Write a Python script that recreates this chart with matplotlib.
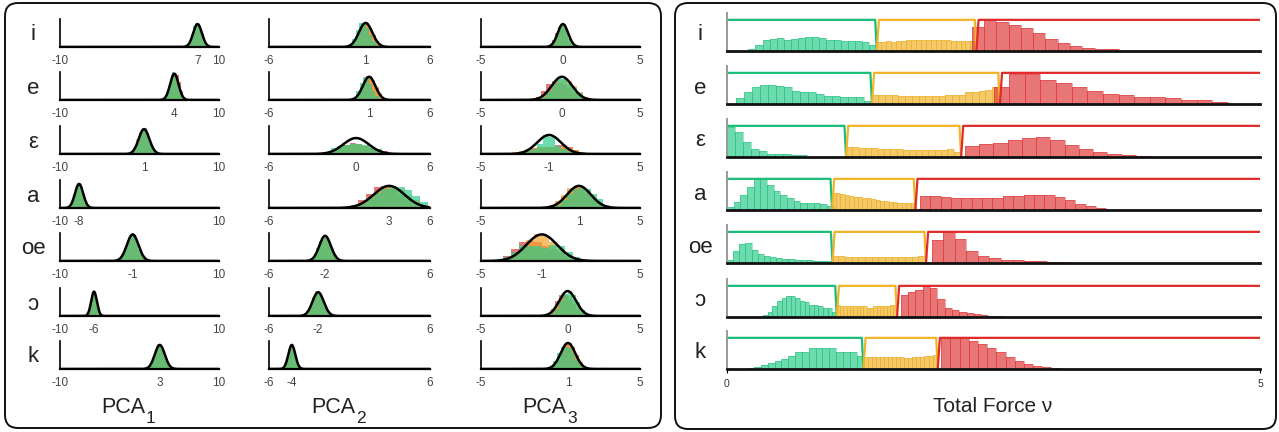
import numpy as np
import matplotlib.pyplot as plt
from matplotlib.patches import FancyBboxPatch

plt.rcParams['font.family'] = ['Liberation Sans', 'DejaVu Sans']

W, H = 1279, 432

vowels = ['i', 'e', 'ε', 'a', 'oe', 'ɔ', 'k']

# ---- left panel: PCA components ----
pca_subscripts = ['1', '2', '3']
pca_limits = [(-10, 10), (-6, 6), (-5, 5)]
pca_mean = [
    [7.3, 4.38, 0.57, -7.6, -0.86, -5.72, 2.55],
    [1.2, 1.46, 0.49, 2.95, -1.82, -2.34, -4.3],
    [0.15, 0.09, -0.72, 1.16, -1.18, 0.45, 0.47],
]
pca_sigma = [
    [0.55, 0.53, 0.67, 0.52, 0.73, 0.36, 0.63],
    [0.5, 0.47, 0.95, 1.15, 0.43, 0.42, 0.26],
    [0.33, 0.65, 0.75, 0.75, 0.97, 0.53, 0.46],
]
pca_peak = [
    [0.82, 0.94, 0.89, 0.86, 0.95, 0.87, 0.86],
    [0.86, 0.83, 0.57, 0.79, 0.9, 0.85, 0.86],
    [0.82, 0.83, 0.68, 0.79, 0.95, 0.89, 0.93],
]
pca_ticklabel = [
    ['7', '4', '1', '-8', '-1', '-6', '3'],
    ['1', '1', '0', '3', '-2', '-2', '-4'],
    ['0', '0', '-1', '1', '-1', '0', '1'],
]

# histogram heights (relative to curve peak), 12 bins over mean +- 3 sigma
hist_red = [
    [[0.0, 0.05, 0.2, 0.45, 0.75, 0.95, 1.0, 0.8, 0.5, 0.25, 0.1, 0.03],
     [0.01, 0.05, 0.2, 0.45, 0.75, 0.95, 1.0, 0.95, 0.7, 0.35, 0.12, 0.03],
     [0.02, 0.08, 0.25, 0.5, 0.8, 0.95, 0.95, 0.75, 0.45, 0.2, 0.07, 0.02],
     [0.01, 0.05, 0.2, 0.45, 0.75, 0.97, 1.0, 0.85, 0.55, 0.25, 0.08, 0.02],
     [0.02, 0.08, 0.22, 0.46, 0.75, 0.97, 0.97, 0.75, 0.46, 0.22, 0.08, 0.02],
     [0.02, 0.08, 0.22, 0.46, 0.75, 0.97, 0.97, 0.75, 0.46, 0.22, 0.08, 0.02],
     [0.02, 0.08, 0.22, 0.46, 0.75, 0.95, 0.97, 0.78, 0.48, 0.22, 0.08, 0.02]],
    [[0.01, 0.05, 0.18, 0.4, 0.7, 0.95, 1.0, 0.8, 0.5, 0.25, 0.08, 0.02],
     [0.01, 0.04, 0.15, 0.4, 0.75, 1.05, 1.05, 0.8, 0.5, 0.22, 0.08, 0.02],
     [0.03, 0.1, 0.25, 0.4, 0.55, 0.7, 0.65, 0.5, 0.4, 0.3, 0.2, 0.08],
     [0.03, 0.12, 0.35, 0.65, 0.95, 1.0, 0.85, 0.6, 0.35, 0.15, 0.05, 0.01],
     [0.02, 0.08, 0.22, 0.46, 0.75, 0.97, 0.97, 0.75, 0.46, 0.22, 0.08, 0.02],
     [0.02, 0.08, 0.22, 0.46, 0.75, 0.97, 0.97, 0.75, 0.46, 0.22, 0.08, 0.02],
     [0.02, 0.08, 0.22, 0.46, 0.75, 0.97, 0.97, 0.75, 0.46, 0.22, 0.08, 0.02]],
    [[0.02, 0.1, 0.3, 0.6, 0.85, 0.9, 0.8, 0.5, 0.2, 0.08, 0.02, 0.0],
     [0.05, 0.15, 0.4, 0.7, 0.8, 0.75, 0.65, 0.5, 0.3, 0.12, 0.04, 0.01],
     [0.02, 0.08, 0.2, 0.3, 0.35, 0.35, 0.35, 0.45, 0.45, 0.35, 0.2, 0.1],
     [0.02, 0.1, 0.25, 0.5, 0.8, 0.95, 0.9, 0.7, 0.45, 0.22, 0.08, 0.02],
     [0.05, 0.2, 0.45, 0.7, 0.75, 0.7, 0.55, 0.45, 0.35, 0.2, 0.08, 0.02],
     [0.03, 0.1, 0.3, 0.6, 0.85, 0.85, 0.7, 0.5, 0.3, 0.12, 0.04, 0.01],
     [0.0, 0.03, 0.12, 0.35, 0.7, 0.95, 1.0, 0.85, 0.55, 0.25, 0.08, 0.02]],
]
hist_orange = [
    [[0.02, 0.08, 0.22, 0.46, 0.75, 0.97, 0.97, 0.75, 0.46, 0.22, 0.08, 0.02],
     [0.02, 0.08, 0.22, 0.46, 0.75, 0.97, 0.97, 0.75, 0.46, 0.22, 0.08, 0.02],
     [0.02, 0.1, 0.3, 0.6, 0.9, 0.95, 0.85, 0.6, 0.35, 0.15, 0.05, 0.01],
     [0.02, 0.08, 0.22, 0.46, 0.75, 0.97, 0.97, 0.75, 0.46, 0.22, 0.08, 0.02],
     [0.03, 0.1, 0.25, 0.5, 0.8, 0.95, 0.95, 0.75, 0.45, 0.2, 0.06, 0.01],
     [0.02, 0.08, 0.22, 0.46, 0.75, 0.97, 0.97, 0.75, 0.46, 0.22, 0.08, 0.02],
     [0.02, 0.08, 0.24, 0.5, 0.8, 1.03, 1.0, 0.78, 0.46, 0.22, 0.08, 0.02]],
    [[0.01, 0.05, 0.18, 0.4, 0.7, 0.95, 1.0, 0.8, 0.5, 0.25, 0.08, 0.02],
     [0.01, 0.05, 0.2, 0.45, 0.75, 0.97, 1.0, 0.85, 0.55, 0.28, 0.1, 0.03],
     [0.05, 0.12, 0.3, 0.45, 0.55, 0.6, 0.6, 0.5, 0.4, 0.3, 0.15, 0.05],
     [0.02, 0.08, 0.25, 0.5, 0.75, 0.95, 1.0, 0.85, 0.6, 0.35, 0.12, 0.03],
     [0.02, 0.08, 0.22, 0.46, 0.75, 0.97, 0.97, 0.75, 0.46, 0.22, 0.08, 0.02],
     [0.02, 0.1, 0.25, 0.5, 0.8, 1.05, 1.0, 0.75, 0.46, 0.22, 0.08, 0.02],
     [0.02, 0.08, 0.22, 0.46, 0.75, 0.97, 0.97, 0.75, 0.46, 0.22, 0.08, 0.02]],
    [[0.01, 0.05, 0.2, 0.45, 0.75, 0.95, 1.0, 0.8, 0.5, 0.2, 0.06, 0.01],
     [0.01, 0.05, 0.2, 0.45, 0.7, 0.85, 0.9, 0.8, 0.6, 0.35, 0.12, 0.03],
     [0.08, 0.15, 0.25, 0.3, 0.35, 0.35, 0.35, 0.35, 0.35, 0.3, 0.2, 0.1],
     [0.03, 0.12, 0.3, 0.6, 0.9, 1.0, 0.95, 0.75, 0.45, 0.2, 0.06, 0.01],
     [0.02, 0.1, 0.3, 0.55, 0.8, 1.0, 0.95, 0.7, 0.45, 0.2, 0.07, 0.02],
     [0.02, 0.08, 0.22, 0.45, 0.75, 0.85, 0.8, 0.65, 0.45, 0.25, 0.08, 0.02],
     [0.01, 0.06, 0.2, 0.45, 0.75, 0.95, 0.95, 0.8, 0.5, 0.25, 0.08, 0.02]],
]
hist_green = [
    [[0.02, 0.08, 0.25, 0.55, 0.9, 1.05, 0.95, 0.7, 0.4, 0.18, 0.06, 0.02],
     [0.02, 0.1, 0.28, 0.55, 0.85, 1.05, 0.95, 0.7, 0.4, 0.15, 0.05, 0.01],
     [0.01, 0.04, 0.15, 0.4, 0.75, 1.0, 1.05, 0.85, 0.5, 0.22, 0.07, 0.02],
     [0.02, 0.08, 0.22, 0.46, 0.75, 0.97, 0.97, 0.75, 0.46, 0.22, 0.08, 0.02],
     [0.01, 0.06, 0.2, 0.45, 0.8, 1.0, 0.95, 0.75, 0.45, 0.2, 0.07, 0.02],
     [0.02, 0.08, 0.22, 0.46, 0.75, 0.97, 0.97, 0.75, 0.46, 0.22, 0.08, 0.02],
     [0.02, 0.08, 0.22, 0.46, 0.75, 0.97, 0.97, 0.75, 0.46, 0.22, 0.08, 0.02]],
    [[0.03, 0.12, 0.35, 0.7, 1.0, 1.0, 0.8, 0.5, 0.25, 0.1, 0.03, 0.01],
     [0.03, 0.15, 0.4, 0.75, 1.0, 0.95, 0.7, 0.4, 0.18, 0.06, 0.02, 0.0],
     [0.05, 0.15, 0.35, 0.5, 0.55, 0.6, 0.6, 0.55, 0.45, 0.3, 0.15, 0.05],
     [0.02, 0.08, 0.2, 0.45, 0.7, 0.85, 0.95, 0.95, 0.8, 0.55, 0.25, 0.06],
     [0.03, 0.1, 0.25, 0.5, 0.8, 0.97, 0.95, 0.75, 0.46, 0.22, 0.08, 0.02],
     [0.02, 0.08, 0.22, 0.46, 0.75, 0.97, 0.97, 0.75, 0.46, 0.22, 0.08, 0.02],
     [0.02, 0.08, 0.22, 0.46, 0.75, 0.97, 0.97, 0.75, 0.46, 0.22, 0.08, 0.02]],
    [[0.0, 0.04, 0.15, 0.45, 0.85, 1.0, 0.95, 0.7, 0.35, 0.12, 0.03, 0.0],
     [0.0, 0.04, 0.15, 0.4, 0.7, 0.95, 0.9, 0.7, 0.5, 0.28, 0.1, 0.02],
     [0.02, 0.05, 0.15, 0.25, 0.5, 1.0, 0.9, 0.4, 0.25, 0.15, 0.08, 0.02],
     [0.01, 0.05, 0.15, 0.35, 0.65, 0.85, 0.9, 0.85, 0.65, 0.4, 0.15, 0.04],
     [0.04, 0.15, 0.35, 0.6, 0.55, 0.55, 0.5, 0.6, 0.55, 0.35, 0.15, 0.05],
     [0.01, 0.04, 0.12, 0.3, 0.6, 0.9, 1.0, 0.85, 0.55, 0.25, 0.08, 0.02],
     [0.02, 0.1, 0.3, 0.6, 0.85, 0.85, 0.8, 0.6, 0.35, 0.15, 0.05, 0.01]],
]

# ---- right panel: total force histograms ----
force_cut1 = [1.395, 1.35, 1.107, 0.976, 0.98, 1.02, 1.27]
force_cut2 = [2.33, 2.55, 2.186, 1.757, 1.857, 1.585, 1.967]

green_lo = [0.20, 0.084, 0.0, 0.0, 0.0, 0.34, 0.19]
green_hi = [1.40, 1.357, 0.75, 1.0, 0.98, 1.03, 1.28]
green_h = [
    [0.05, 0.18, 0.35, 0.38, 0.41, 0.35, 0.38, 0.41, 0.45, 0.45, 0.41, 0.35, 0.35, 0.32, 0.32, 0.32, 0.28, 0.18],
    [0.19, 0.40, 0.53, 0.62, 0.62, 0.59, 0.53, 0.43, 0.40, 0.37, 0.33, 0.27, 0.27, 0.24, 0.24, 0.24, 0.11],
    [0.97, 0.81, 0.47, 0.26, 0.18, 0.11, 0.09, 0.09, 0.05, 0.05],
    [0.11, 0.27, 0.49, 0.75, 0.98, 0.98, 0.81, 0.62, 0.49, 0.37, 0.30, 0.24, 0.24, 0.24, 0.20, 0.12],
    [0.10, 0.37, 0.60, 0.63, 0.43, 0.30, 0.23, 0.20, 0.17, 0.13, 0.13, 0.10, 0.10, 0.10, 0.07, 0.07, 0.07],
    [0.08, 0.17, 0.34, 0.50, 0.60, 0.66, 0.66, 0.60, 0.50, 0.47, 0.37, 0.37, 0.34, 0.30, 0.30, 0.17],
    [0.03, 0.07, 0.13, 0.20, 0.27, 0.33, 0.43, 0.53, 0.56, 0.66, 0.66, 0.66, 0.66, 0.56, 0.56, 0.56, 0.43],
]
yellow_lo = [1.40, 1.357, 1.116, 0.982, 0.982, 1.03, 1.28]
yellow_hi = [2.33, 2.55, 2.186, 1.764, 1.857, 1.59, 1.967]
yellow_h = [
    [0.28, 0.28, 0.32, 0.30, 0.32, 0.32, 0.35, 0.35, 0.35, 0.35, 0.35, 0.35, 0.35, 0.35, 0.35, 0.32, 0.32, 0.32, 0.32, 0.32],
    [0.30, 0.30, 0.30, 0.30, 0.27, 0.27, 0.27, 0.27, 0.27, 0.27, 0.27, 0.28, 0.30, 0.30, 0.37, 0.40, 0.43, 0.46, 0.56],
    [0.31, 0.31, 0.28, 0.28, 0.28, 0.26, 0.26, 0.26, 0.26, 0.23, 0.23, 0.23, 0.23, 0.23, 0.23, 0.23, 0.26, 0.15],
    [0.56, 0.53, 0.51, 0.49, 0.46, 0.43, 0.41, 0.37, 0.37, 0.36, 0.33, 0.30, 0.28, 0.27, 0.27, 0.24, 0.24, 0.24, 0.24],
    [0.23, 0.23, 0.20, 0.20, 0.20, 0.20, 0.20, 0.20, 0.20, 0.20, 0.20, 0.20, 0.20, 0.23],
    [0.37, 0.34, 0.34, 0.34, 0.34, 0.34, 0.34, 0.34, 0.34, 0.30, 0.30, 0.34, 0.34, 0.34, 0.34, 0.34, 0.37, 0.37],
    [0.40, 0.40, 0.40, 0.40, 0.40, 0.40, 0.40, 0.40, 0.40, 0.40, 0.36, 0.36, 0.40, 0.40, 0.40, 0.43, 0.43, 0.46],
]
red_lo = [2.295, 2.50, 2.23, 1.81, 1.92, 1.63, 2.01]
red_hi = [3.68, 4.70, 3.97, 3.56, 3.22, 2.59, 3.13]
red_h = [
    [0.78, 0.98, 0.92, 0.84, 0.74, 0.57, 0.38, 0.25, 0.15, 0.09, 0.05, 0.05],
    [0.53, 0.97, 0.97, 0.78, 0.66, 0.56, 0.43, 0.33, 0.28, 0.24, 0.22, 0.19, 0.14, 0.14, 0.08],
    [0.34, 0.41, 0.44, 0.54, 0.60, 0.63, 0.54, 0.38, 0.26, 0.15, 0.09, 0.05, 0.03],
    [0.46, 0.46, 0.43, 0.40, 0.40, 0.37, 0.40, 0.40, 0.46, 0.46, 0.49, 0.49, 0.49, 0.43, 0.33, 0.20, 0.14, 0.08],
    [0.73, 1.0, 0.77, 0.37, 0.23, 0.17, 0.10, 0.10, 0.07, 0.07, 0.03, 0.03],
    [0.70, 0.79, 0.86, 0.98, 0.92, 0.57, 0.30, 0.21, 0.17, 0.14, 0.11, 0.08, 0.04, 0.02],
    [1.0, 1.0, 1.0, 0.89, 0.79, 0.66, 0.53, 0.40, 0.26, 0.16, 0.10, 0.07, 0.03],
]

RED, ORANGE, GREEN = '#e03c3c', '#f5a52a', '#2ecc8a'
YELLOW = '#f0b429'
RED_D, YELLOW_D, GREEN_D = (0.85, 0.15, 0.15, 0.45), (0.91, 0.65, 0.1, 0.45), (0.1, 0.72, 0.45, 0.45)
LINE_RED, LINE_YELLOW, LINE_GREEN = '#e02a2a', '#f0b429', '#19bd78'
TEXT = '#222222'


def px_axes(fig, x0, y0, x1, y1):
    return fig.add_axes([x0 / W, 1 - y1 / H, (x1 - x0) / W, (y1 - y0) / H])


fig = plt.figure(figsize=(W / 100, H / 100), dpi=100)

# panel frames
for bx0, by0, bx1, by1 in [(5, 3, 661, 428), (675, 3, 1276, 429)]:
    fig.patches.append(FancyBboxPatch((bx0 / 100, (H - by1) / 100), (bx1 - bx0) / 100, (by1 - by0) / 100,
                                      boxstyle='round,pad=0,rounding_size=0.13',
                                      transform=fig.dpi_scale_trans, fill=False,
                                      edgecolor='#111111', linewidth=1.4))

row_top = [19, 72, 126, 180, 233, 288, 341]
row_h = 28
col_x = [(60, 219), (269, 430), (481, 640)]

for c in range(3):
    lo, hi = pca_limits[c]
    for r in range(7):
        ax = px_axes(fig, col_x[c][0], row_top[r], col_x[c][1], row_top[r] + row_h)
        mu, sd, pk = pca_mean[c][r], pca_sigma[c][r], pca_peak[c][r]
        edges = np.linspace(mu - 3 * sd, mu + 3 * sd, 13)
        centers = (edges[:-1] + edges[1:]) / 2
        w = edges[1] - edges[0]
        for vals, col in [(hist_red, RED), (hist_orange, ORANGE), (hist_green, GREEN)]:
            ax.bar(centers, np.array(vals[c][r]) * pk, width=w, color=col, alpha=0.7, linewidth=0)
        xs = np.linspace(lo, hi, 400)
        ax.plot(xs, pk * np.exp(-0.5 * ((xs - mu) / sd) ** 2), color='black', lw=1.8)
        ax.set_xlim(lo, hi)
        ax.set_ylim(0, 1)
        ax.set_yticks([])
        ax.set_xticks([lo, mu, hi])
        ax.set_xticklabels([str(lo), pca_ticklabel[c][r], str(hi)])
        ax.tick_params(axis='x', length=0, pad=6, labelsize=8.5, labelcolor='#444444')
        for s in ['top', 'right']:
            ax.spines[s].set_visible(False)
        ax.spines['bottom'].set_linewidth(1.6)
        ax.spines['left'].set_linewidth(1.2)
        ax.patch.set_alpha(0)
        if c == 0:
            fig.text(33 / W, 1 - (row_top[r] + 16) / H, vowels[r], fontsize=16,
                     ha='center', va='center', color=TEXT)
    xc = (col_x[c][0] + col_x[c][1]) / 2
    fig.text((xc + 6) / W, 1 - 413 / H, 'PCA', fontsize=15.5, ha='right', va='baseline', color=TEXT)
    fig.text((xc + 6.5) / W, 1 - 423 / H, pca_subscripts[c], fontsize=12.5, ha='left', va='baseline',
             color=TEXT)

# right panel
rtop = [13, 66, 119, 172, 225, 279, 331]
rh = 38
for r in range(7):
    ax = px_axes(fig, 727, rtop[r], 1260, rtop[r] + rh)
    for lo_, hi_, hh, col, ecol in [(green_lo[r], green_hi[r], green_h[r], GREEN, GREEN_D),
                                    (yellow_lo[r], yellow_hi[r], yellow_h[r], YELLOW, YELLOW_D),
                                    (red_lo[r], red_hi[r], red_h[r], RED, RED_D)]:
        edges = np.linspace(lo_, hi_, len(hh) + 1)
        ax.bar(edges[:-1], hh, width=np.diff(edges), align='edge', color=col, alpha=0.7, linewidth=0)
        ax.bar(edges[:-1], hh, width=np.diff(edges), align='edge', fill=False,
               edgecolor=ecol, linewidth=0.6)
    c1, c2 = force_cut1[r], force_cut2[r]
    ax.plot([0, c1 - 0.005, c1 + 0.01], [1, 1, 0], color=LINE_GREEN, lw=1.6, solid_joinstyle='round')
    ax.plot([c1 + 0.01, c1 + 0.03, c2 - 0.005, c2 + 0.01], [0, 1, 1, 0], color=LINE_YELLOW, lw=1.6,
            solid_joinstyle='round')
    ax.plot([c2 + 0.01, c2 + 0.03, 5], [0, 1, 1], color=LINE_RED, lw=1.6, solid_joinstyle='round')
    ax.set_xlim(0, 5)
    ax.set_ylim(0, 1.22)
    ax.set_yticks([])
    for s in ['top', 'right']:
        ax.spines[s].set_visible(False)
    ax.spines['left'].set_color('#999999')
    ax.spines['left'].set_linewidth(1.4)
    ax.spines['bottom'].set_linewidth(2)
    ax.spines['bottom'].set_color('#111111')
    ax.patch.set_alpha(0)
    if r == 6:
        ax.set_xticks([0, 5])
        ax.tick_params(axis='x', length=3, width=0.8, pad=4, labelsize=7.5, labelcolor='#333333')
    else:
        ax.set_xticks([])
    fig.text(700 / W, 1 - (rtop[r] + 22) / H, vowels[r], fontsize=16,
             ha='center', va='center', color=TEXT)

fig.text(993 / W, 1 - 406 / H, 'Total Force ν', fontsize=15, ha='center', va='center', color=TEXT)

fig.savefig('out.png', dpi=100)
